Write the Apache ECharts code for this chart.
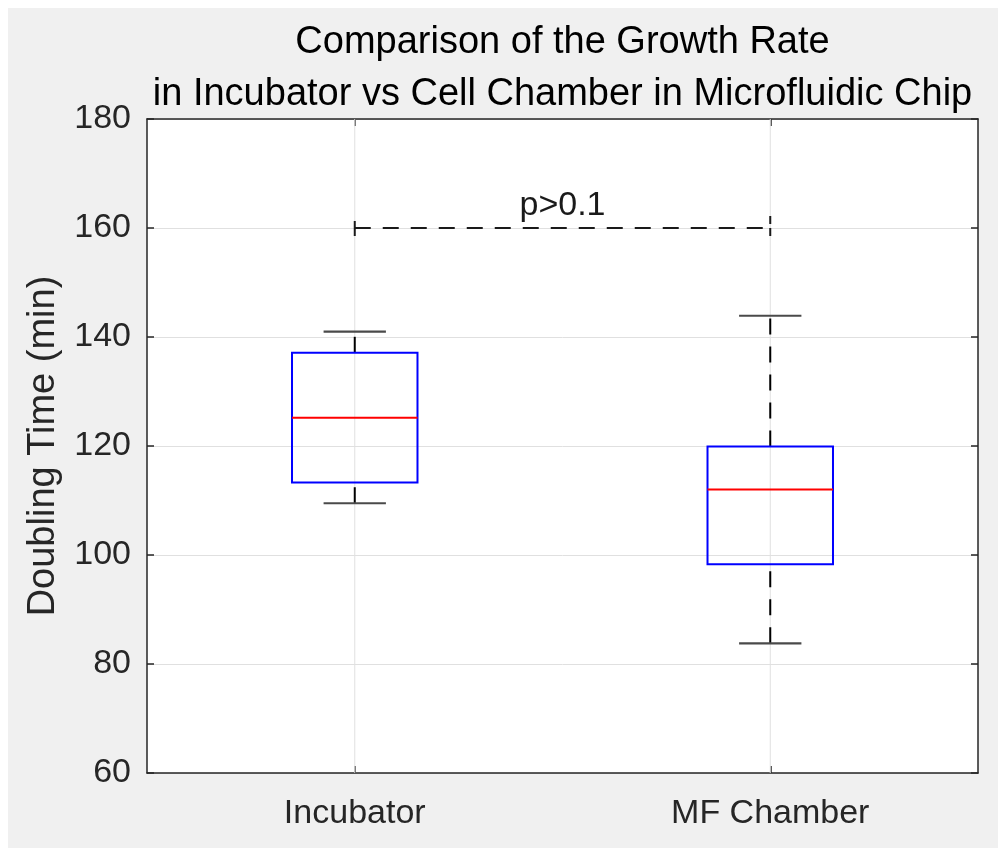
<!DOCTYPE html>
<html>
<head>
<meta charset="utf-8">
<script src="https://cdn.jsdelivr.net/npm/echarts@6/dist/echarts.min.js"></script>
<style>
  html, body { margin: 0; padding: 0; background: #ffffff; }
  #chart { position: absolute; left: 8px; top: 8px; width: 990px; height: 840px; background: #f0f0f0; }
</style>
</head>
<body>
<div id="chart"></div>
<script>
// Box-plot summary per group (minutes)
const categories = ['Incubator', 'MF Chamber'];
const whiskerLow = [109.5, 83.8];
const quartile1 = [113.3, 98.3];
const medians = [125.2, 112.0];
const quartile3 = [137.1, 119.9];
const whiskerHigh = [141.0, 143.9];

// Y axis ticks
const yTicks = [60, 80, 100, 120, 140, 160, 180];

// Significance bracket between the two groups
const bracketLevel = 160;
const bracketLabel = 'p>0.1';

const titleLines = ['Comparison of the Growth Rate', 'in Incubator vs Cell Chamber in Microfluidic Chip'];
const yAxisTitle = 'Doubling Time (min)';

const FONT = "'Liberation Sans', Arial, Helvetica, sans-serif";
const AXIS_COLOR = '#262626';
const GRID_COLOR = '#e0e0e0';

const yMin = yTicks[0];
const yMax = yTicks[yTicks.length - 1];
const yStep = yTicks[1] - yTicks[0];

const gridBox = { left: 139, top: 111, width: 831, height: 654 };

const boxData = categories.map((c, i) => [i, whiskerLow[i], quartile1[i], medians[i], quartile3[i], whiskerHigh[i]]);

// vertical grid lines at each category centre
function renderXGrid(params, api) {
  const i = api.value(0);
  const top = api.coord([i, yMax]);
  const bottom = api.coord([i, yMin]);
  return {
    type: 'line',
    shape: { x1: top[0], y1: top[1], x2: bottom[0], y2: bottom[1] },
    style: { stroke: GRID_COLOR, lineWidth: 1 }
  };
}

// MATLAB-style box: blue box, red median, dashed black whiskers with caps
function renderBox(params, api) {
  const i = api.value(0);
  const pLo = api.coord([i, api.value(1)]);
  const pQ1 = api.coord([i, api.value(2)]);
  const pMd = api.coord([i, api.value(3)]);
  const pQ3 = api.coord([i, api.value(4)]);
  const pHi = api.coord([i, api.value(5)]);
  const band = api.size([1, 0])[0];
  const half = band * 0.151;
  const capHalf = band * 0.075;
  const x = pMd[0];
  const whiskerStyle = { stroke: '#000000', lineWidth: 2, lineDash: [16, 12] };
  const capStyle = { stroke: '#4a4a4a', lineWidth: 2.2 };
  return {
    type: 'group',
    children: [
      { type: 'line', shape: { x1: x, y1: pQ3[1], x2: x, y2: pHi[1] }, style: whiskerStyle },
      { type: 'line', shape: { x1: x, y1: pLo[1], x2: x, y2: pQ1[1] }, style: whiskerStyle },
      { type: 'line', shape: { x1: x - capHalf, y1: pHi[1], x2: x + capHalf, y2: pHi[1] }, style: capStyle },
      { type: 'line', shape: { x1: x - capHalf, y1: pLo[1], x2: x + capHalf, y2: pLo[1] }, style: capStyle },
      { type: 'rect', shape: { x: x - half, y: pQ3[1], width: half * 2, height: pQ1[1] - pQ3[1] },
        style: { fill: 'none', stroke: '#0000ff', lineWidth: 2 } },
      { type: 'line', shape: { x1: x - half, y1: pMd[1], x2: x + half, y2: pMd[1] },
        style: { stroke: '#ff0000', lineWidth: 2 } }
    ]
  };
}

// dashed significance bracket with its label
function renderBracket(params, api) {
  const a = api.coord([api.value(0), api.value(2)]);
  const b = api.coord([api.value(1), api.value(2)]);
  const dash = { stroke: '#1a1a1a', lineWidth: 2, lineDash: [16, 12] };
  return {
    type: 'group',
    children: [
      { type: 'line', shape: { x1: a[0], y1: a[1], x2: b[0], y2: b[1] }, style: dash },
      { type: 'line', shape: { x1: a[0], y1: a[1] - 7, x2: a[0], y2: a[1] + 8 }, style: { stroke: '#1a1a1a', lineWidth: 2 } },
      { type: 'line', shape: { x1: b[0], y1: b[1] - 12, x2: b[0], y2: b[1] + 10 }, style: { stroke: '#1a1a1a', lineWidth: 2, lineDash: [8, 4] } },
      { type: 'text', x: (a[0] + b[0]) / 2, y: a[1] - 5,
        style: { text: bracketLabel, font: '34px ' + FONT, fill: '#1a1a1a', align: 'center', verticalAlign: 'bottom' } }
    ]
  };
}

const chart = echarts.init(document.getElementById('chart'));

chart.setOption({
  animation: false,
  backgroundColor: '#f0f0f0',
  graphic: [{
    type: 'text',
    x: gridBox.left + gridBox.width / 2,
    y: 61,
    style: {
      text: titleLines.join('\n'),
      font: '38px ' + FONT,
      lineHeight: 52,
      fill: '#000000',
      align: 'center',
      verticalAlign: 'middle'
    }
  }],
  grid: { left: gridBox.left, top: gridBox.top, width: gridBox.width, height: gridBox.height,
          show: true, backgroundColor: '#ffffff', borderWidth: 0 },
  xAxis: [{
    type: 'category',
    data: categories,
    boundaryGap: true,
    axisLine: { show: true, lineStyle: { color: AXIS_COLOR, width: 1.5 } },
    axisTick: { show: true, inside: true, alignWithLabel: true, length: 7, lineStyle: { color: AXIS_COLOR, width: 1.5 } },
    axisLabel: { show: true, fontSize: 34, fontFamily: FONT, color: AXIS_COLOR, margin: 24 },
    splitLine: { show: false }
  }, {
    type: 'category',
    data: categories,
    position: 'top',
    boundaryGap: true,
    axisLine: { show: true, lineStyle: { color: AXIS_COLOR, width: 1.5 } },
    axisTick: { show: true, inside: true, alignWithLabel: true, length: 7, lineStyle: { color: AXIS_COLOR, width: 1.5 } },
    axisLabel: { show: false },
    splitLine: { show: false }
  }],
  yAxis: [{
    type: 'value',
    min: yMin,
    max: yMax,
    interval: yStep,
    name: yAxisTitle,
    nameLocation: 'middle',
    nameRotate: 90,
    nameGap: 84,
    nameTextStyle: { fontSize: 38, fontFamily: FONT, color: AXIS_COLOR },
    axisLine: { show: true, lineStyle: { color: AXIS_COLOR, width: 1.5 } },
    axisTick: { show: true, inside: true, length: 7, lineStyle: { color: AXIS_COLOR, width: 1.5 } },
    axisLabel: { fontSize: 34, fontFamily: FONT, color: AXIS_COLOR, margin: 16 },
    splitLine: { show: true, lineStyle: { color: GRID_COLOR, width: 1 } }
  }, {
    type: 'value',
    position: 'right',
    min: yMin,
    max: yMax,
    interval: yStep,
    axisLine: { show: true, lineStyle: { color: AXIS_COLOR, width: 1.5 } },
    axisTick: { show: true, inside: true, length: 7, lineStyle: { color: AXIS_COLOR, width: 1.5 } },
    axisLabel: { show: false },
    splitLine: { show: false }
  }],
  series: [{
    type: 'custom',
    name: 'grid',
    renderItem: renderXGrid,
    data: categories.map((c, i) => [i]),
    encode: { x: 0 },
    silent: true,
    z: 1
  }, {
    type: 'custom',
    name: 'Doubling time',
    renderItem: renderBox,
    data: boxData,
    encode: { x: 0, y: [1, 2, 3, 4, 5] },
    z: 3
  }, {
    type: 'custom',
    name: 'Significance',
    renderItem: renderBracket,
    data: [[0, 1, bracketLevel]],
    encode: { x: [0, 1], y: 2 },
    z: 4
  }]
});
</script>
</body>
</html>
